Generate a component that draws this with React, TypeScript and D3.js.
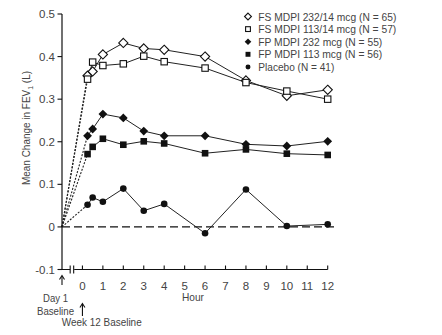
import React from "react";
import * as d3 from "d3";

const hours = [0.25, 0.5, 1, 2, 3, 4, 6, 8, 10, 12];
const fs232 = [0.355, 0.365, 0.405, 0.432, 0.419, 0.416, 0.4, 0.344, 0.308, 0.322];
const fs113 = [0.347, 0.387, 0.379, 0.383, 0.401, 0.388, 0.373, 0.339, 0.319, 0.3];
const fp232 = [0.214, 0.23, 0.265, 0.256, 0.225, 0.214, 0.214, 0.194, 0.19, 0.201];
const fp113 = [0.171, 0.188, 0.207, 0.193, 0.201, 0.196, 0.173, 0.182, 0.172, 0.169];
const placebo = [0.052, 0.069, 0.059, 0.09, 0.038, 0.054, -0.015, 0.088, 0.002, 0.006];
const seriesNames = [
  "FS MDPI 232/14 mcg (N = 65)",
  "FS MDPI 113/14 mcg (N = 57)",
  "FP MDPI 232 mcg (N = 55)",
  "FP MDPI 113 mcg (N = 56)",
  "Placebo (N = 41)",
];
const markers = ["diamondOpen", "squareOpen", "diamond", "square", "circle"];
const yTicks = [-0.1, 0, 0.1, 0.2, 0.3, 0.4, 0.5];
const yTickLabels = ["-0.1", "0", "0.1", "0.2", "0.3", "0.4", "0.5"];
const xTicks = [0, 1, 2, 3, 4, 5, 6, 7, 8, 9, 10, 11, 12];
const baselineHour = -1;

const FONT = "'Liberation Sans', Arial, sans-serif";
const legendWidths = [138, 138, 124, 124, 76];

function Marker({ type, cx, cy, k = 1 }: { type: string; cx: number; cy: number; k?: number }) {
  if (type === "diamondOpen") {
    const r = 4.6 * k;
    return (
      <path
        d={`M${cx},${cy - r}L${cx + r},${cy}L${cx},${cy + r}L${cx - r},${cy}Z`}
        fill="white"
        stroke="#111"
        strokeWidth={1.1}
      />
    );
  }
  if (type === "diamond") {
    const r = 4.4 * k;
    return <path d={`M${cx},${cy - r}L${cx + r},${cy}L${cx},${cy + r}L${cx - r},${cy}Z`} fill="#111" />;
  }
  if (type === "squareOpen") {
    const s = 6.4 * k;
    return <rect x={cx - s / 2} y={cy - s / 2} width={s} height={s} fill="white" stroke="#111" strokeWidth={1.1} />;
  }
  if (type === "square") {
    const s = 6.6 * k;
    return <rect x={cx - s / 2} y={cy - s / 2} width={s} height={s} fill="#111" />;
  }
  return <circle cx={cx} cy={cy} r={3.3 * k} fill="#111" />;
}

export default function App() {
  const x = d3.scaleLinear().domain([-1, 12]).range([62, 327.7]);
  const y = d3.scaleLinear().domain([-0.1, 0.5]).range([269.5, 14]);
  const all = [fs232, fs113, fp232, fp113, placebo];
  const line = d3
    .line<[number, number]>()
    .x((d) => x(d[0]))
    .y((d) => y(d[1]));
  const x0 = x(baselineHour);
  const yBase = y(-0.1);
  const txt = "#444";

  return (
    <svg
      width={442}
      height={335}
      style={{ position: "absolute", left: 0, top: 0, background: "white" }}
      fontFamily={FONT}
    >
      {/* zero dashed line */}
      <line x1={x0} x2={334} y1={y(0)} y2={y(0)} stroke="#111" strokeWidth={1.4} strokeDasharray="8,4" />

      {/* dotted lines from baseline */}
      {all.map((vals, i) => (
        <path
          key={"dot" + i}
          d={line([[baselineHour, 0], [hours[0], vals[0]]]) || ""}
          fill="none"
          stroke="#222"
          strokeWidth={1.1}
          strokeDasharray="2,1.5"
        />
      ))}

      {/* solid lines */}
      {all.map((vals, i) => (
        <path
          key={"ln" + i}
          d={line(hours.map((h, j) => [h, vals[j]] as [number, number])) || ""}
          fill="none"
          stroke="#222"
          strokeWidth={1}
        />
      ))}

      {/* markers */}
      {all.map((vals, i) =>
        hours.map((h, j) => <Marker key={`m${i}-${j}`} type={markers[i]} cx={x(h)} cy={y(vals[j])} />)
      )}

      {/* y axis */}
      <line x1={x0} x2={x0} y1={y(0.5)} y2={yBase} stroke="#111" strokeWidth={1.2} />
      {yTicks.map((t, i) => (
        <g key={"yt" + t}>
          <line x1={x0 - 4.5} x2={x0} y1={y(t)} y2={y(t)} stroke="#111" strokeWidth={1.1} />
          <text x={x0 - 7} y={y(t)} dy="0.35em" textAnchor="end" fontSize={11.5} fill={txt}>
            {yTickLabels[i]}
          </text>
        </g>
      ))}

      {/* x axis */}
      <line x1={x0} x2={x(12)} y1={yBase} y2={yBase} stroke="#111" strokeWidth={1.2} />
      {xTicks.map((t) => (
        <g key={"xt" + t}>
          <line x1={x(t)} x2={x(t)} y1={yBase - 4} y2={yBase} stroke="#111" strokeWidth={1.1} />
          <text x={x(t)} y={yBase + 20} textAnchor="middle" fontSize={11.5} fill={txt}>
            {t}
          </text>
        </g>
      ))}
      {/* axis break */}
      <rect x={x(-0.6)} y={yBase - 4} width={4} height={8} fill="white" />
      <line x1={x(-0.6)} x2={x(-0.6)} y1={yBase - 4} y2={yBase + 4} stroke="#111" strokeWidth={1.1} />
      <line x1={x(-0.6) + 3.5} x2={x(-0.6) + 3.5} y1={yBase - 4} y2={yBase + 4} stroke="#111" strokeWidth={1.1} />

      {/* y label */}
      <text
        transform={`translate(30,128) rotate(-90)`}
        textAnchor="middle"
        fontSize={11.5}
        fill={txt}
        textLength={114}
        lengthAdjust="spacingAndGlyphs"
      >
        Mean Change in FEV
        <tspan fontSize={8} dy={3}>1</tspan>
        <tspan dy={-3}> (L)</tspan>
      </text>

      {/* x label */}
      <text x={193} y={301} textAnchor="middle" fontSize={11.5} fill={txt} textLength={22} lengthAdjust="spacingAndGlyphs">
        Hour
      </text>

      {/* baseline annotations */}
      <line x1={x0} x2={x0} y1={285} y2={276} stroke="#111" strokeWidth={1.1} />
      <path d={`M${x0 - 2.5},${279.5}L${x0},${275.5}L${x0 + 2.5},${279.5}`} fill="none" stroke="#111" strokeWidth={1.1} />
      <text x={43} y={302} fontSize={11.5} fill={txt} textLength={25} lengthAdjust="spacingAndGlyphs">
        Day 1
      </text>
      <text x={37} y={315} fontSize={11.5} fill={txt} textLength={37} lengthAdjust="spacingAndGlyphs">
        Baseline
      </text>
      <line x1={x(0)} x2={x(0)} y1={316} y2={304} stroke="#111" strokeWidth={1.1} />
      <path
        d={`M${x(0) - 2.5},${307.5}L${x(0)},${303.5}L${x(0) + 2.5},${307.5}`}
        fill="none"
        stroke="#111"
        strokeWidth={1.1}
      />
      <text x={61.7} y={326} fontSize={11.5} fill={txt} textLength={80} lengthAdjust="spacingAndGlyphs">
        Week 12 Baseline
      </text>

      {/* legend */}
      {seriesNames.map((name, i) => (
        <g key={"lg" + i}>
          <Marker type={markers[i]} cx={248} cy={16.5 + i * 12.6} k={0.75} />
          <text
            x={258.3}
            y={16.5 + i * 12.6}
            dy="0.35em"
            fontSize={11.5}
            fill={txt}
            textLength={legendWidths[i]}
            lengthAdjust="spacingAndGlyphs"
          >
            {name}
          </text>
        </g>
      ))}
    </svg>
  );
}
